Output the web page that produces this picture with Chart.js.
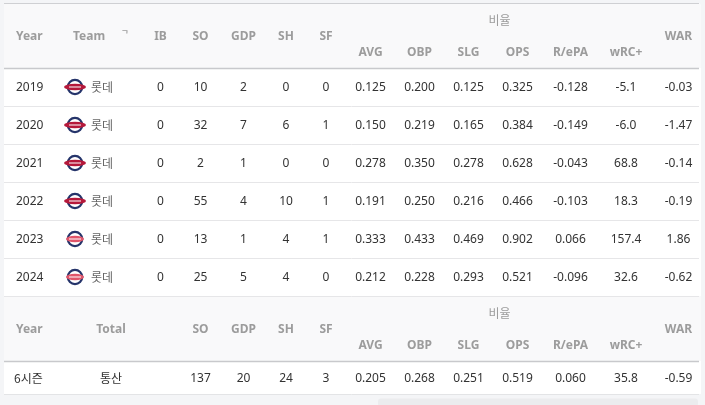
<!DOCTYPE html>
<html><head><meta charset="utf-8">
<script src="https://cdn.jsdelivr.net/npm/chart.js@4.4.1/dist/chart.umd.min.js"></script>
<style>html,body{margin:0;padding:0;background:#f4f5f7;overflow:hidden}#wrap{width:705px;height:405px;position:relative}</style>
</head><body><div id="wrap"><canvas id="c" width="705" height="405"></canvas></div>
<script>
// ---- data ----
const years = ['2019','2020','2021','2022','2023','2024'];
const teams = ['롯데','롯데','롯데','롯데','롯데','롯데'];
const IB  = [0,0,0,0,0,0];
const SO  = [10,32,2,55,13,25];
const GDP = [2,7,1,4,1,5];
const SH  = [0,6,0,10,4,4];
const SF  = [0,1,0,1,1,0];
const AVG = [0.125,0.150,0.278,0.191,0.333,0.212];
const OBP = [0.200,0.219,0.350,0.250,0.433,0.228];
const SLG = [0.125,0.165,0.278,0.216,0.469,0.293];
const OPS = [0.325,0.384,0.628,0.466,0.902,0.521];
const REPA = [-0.128,-0.149,-0.043,-0.103,0.066,-0.096];
const WRC = [-5.1,-6.0,68.8,18.3,157.4,32.6];
const WAR = [-0.03,-1.47,-0.14,-0.19,1.86,-0.62];
// totals
const totalLabels = ['6시즌','통산'];
const totalCounts = {SO:137, GDP:20, SH:24, SF:3};
const totalRates = {AVG:0.205, OBP:0.268, SLG:0.251, OPS:0.519, REPA:0.060, WRC:35.8, WAR:-0.59};
// header labels
const countHeaders = ['IB','SO','GDP','SH','SF'];
const rateHeaders = ['AVG','OBP','SLG','OPS','R/ePA','wRC+'];
const groupHeader = '비율';

// ---- layout (positions/styles) ----
const TL = 4, TR = 701;
const H1 = 3, HEADH = 65, ROWH = 38, TOTH = 33;
const dataTop = H1 + HEADH;
const H2 = dataTop + ROWH * years.length;
const totTop = H2 + HEADH;
const rowY = i => dataTop + ROWH * i + ROWH / 2 + 1;
const colX = {Year:16, Logo:75, TeamHead:73, Team:91, Total:111, IB:160.5, SO:200.5, GDP:243.5, SH:286, SF:326,
  AVG:370.5, OBP:419.5, SLG:468.5, OPS:517.5, REPA:570.5, WRC:626, WAR:678.5, Group:499.5, Mark:125};
const FONT = "'Noto Sans','Noto Sans CJK KR',sans-serif";
const HFONT = "bold 12px " + FONT, DFONT = "12px " + FONT, KFONT = "12px 'Noto Sans CJK KR',sans-serif";
const HCOL = '#9c9c9c', DCOL = '#333333';

const f3 = v => v.toFixed(3), f2 = v => v.toFixed(2), f1 = v => v.toFixed(1);
const datasets = [];
function addCol(xKey, ys, texts, font, color, align, kind) {
  datasets.push({ data: ys.map(y => ({x: colX[xKey], y})), texts, font, color, align: align || 'center', kind: kind || 'text' });
}
const dataYs = years.map((_, i) => rowY(i));
// header 1 & 2
[H1, H2].forEach((top, h) => {
  const yMain = top + 34, yTop = top + 17, ySub = top + 50;
  addCol('Year', [yMain], ['Year'], HFONT, HCOL, 'left');
  if (h === 0) {
    addCol('TeamHead', [yMain], ['Team'], HFONT, HCOL, 'left');
    addCol('Mark', [yMain - 2], ['ᄀ'], 'bold 8px ' + FONT, HCOL);
    addCol('IB', [yMain], ['IB'], HFONT, HCOL);
  } else {
    addCol('Total', [yMain], ['Total'], HFONT, HCOL);
  }
  ['SO','GDP','SH','SF'].forEach(k => addCol(k, [yMain], [k], HFONT, HCOL));
  ['AVG','OBP','SLG','OPS','REPA','WRC'].forEach((k, j) => addCol(k, [ySub], [rateHeaders[j]], HFONT, HCOL));
  addCol('WAR', [yMain], ['WAR'], HFONT, HCOL);
  addCol('Group', [yTop], [groupHeader], KFONT, HCOL);
});
// data rows
addCol('Year', dataYs, years, DFONT, DCOL, 'left');
addCol('Logo', dataYs.map(y => y - 1), years, null, null, 'center', 'logo');
addCol('Team', dataYs.map(y => y - 1), teams, KFONT, '#666666', 'left');
addCol('IB', dataYs, IB.map(String), DFONT, DCOL);
addCol('SO', dataYs, SO.map(String), DFONT, DCOL);
addCol('GDP', dataYs, GDP.map(String), DFONT, DCOL);
addCol('SH', dataYs, SH.map(String), DFONT, DCOL);
addCol('SF', dataYs, SF.map(String), DFONT, DCOL);
addCol('AVG', dataYs, AVG.map(f3), DFONT, DCOL);
addCol('OBP', dataYs, OBP.map(f3), DFONT, DCOL);
addCol('SLG', dataYs, SLG.map(f3), DFONT, DCOL);
addCol('OPS', dataYs, OPS.map(f3), DFONT, DCOL);
addCol('REPA', dataYs, REPA.map(f3), DFONT, DCOL);
addCol('WRC', dataYs, WRC.map(f1), DFONT, DCOL);
addCol('WAR', dataYs, WAR.map(f2), DFONT, DCOL);
// totals row
const ty = totTop + TOTH / 2 + 1;
datasets.push({data:[{x:colX.Year - 2, y:ty}], texts:[totalLabels[0]], font:KFONT, color:DCOL, align:'left', kind:'text'});
addCol('Total', [ty], [totalLabels[1]], KFONT, DCOL);
Object.keys(totalCounts).forEach(k => addCol(k, [ty], [String(totalCounts[k])], DFONT, DCOL));
Object.keys(totalRates).forEach(k => {
  const v = totalRates[k];
  addCol(k, [ty], [k === 'WRC' ? f1(v) : k === 'WAR' ? f2(v) : f3(v)], DFONT, DCOL);
});

function drawLogo(ctx, x, y, alt) {
  ctx.save();
  ctx.beginPath(); ctx.arc(x, y, 7.2, 0, Math.PI * 2);
  ctx.fillStyle = '#ffffff'; ctx.fill();
  ctx.lineWidth = 2.2; ctx.strokeStyle = '#25346a'; ctx.stroke();
  ctx.beginPath(); ctx.ellipse(x, y, alt ? 9 : 11, 3.3, 0, 0, Math.PI * 2);
  ctx.fillStyle = alt ? '#e0556a' : '#b5183a'; ctx.fill();
  ctx.fillStyle = '#ffffff'; ctx.fillRect(x - 6, y - 0.5, 12, 1);
  ctx.restore();
}

const tablePlugin = {
  id: 'tablePlugin',
  beforeDatasetsDraw(chart) {
    const {ctx, scales: {x, y}} = chart;
    const px = v => x.getPixelForValue(v), py = v => y.getPixelForValue(v);
    ctx.save();
    ctx.fillStyle = '#ffffff';
    ctx.beginPath();
    ctx.roundRect(px(TL), py(H1), px(TR) - px(TL), py(totTop + TOTH) - py(H1), [0, 4, 0, 0]);
    ctx.fill();
    ctx.fillStyle = '#f9f9fa';
    ctx.beginPath(); ctx.roundRect(px(TL), py(H1), px(TR) - px(TL), py(H1 + HEADH) - py(H1), [0, 4, 0, 0]); ctx.fill();
    ctx.fillRect(px(TL), py(H2), px(TR) - px(TL), py(H2 + HEADH) - py(H2));
    const hline = (yy, col, w) => { ctx.strokeStyle = col; ctx.lineWidth = w || 1; ctx.beginPath(); ctx.moveTo(px(TL), Math.round(py(yy)) + 0.5); ctx.lineTo(px(TR) - 2, Math.round(py(yy)) + 0.5); ctx.stroke(); };
    hline(H1, '#cfd0d3', 1.2);
    hline(dataTop, '#c8c9cc', 1.5);
    for (let i = 1; i <= years.length; i++) hline(dataTop + ROWH * i, '#e6e6e8');
    hline(totTop, '#c8c9cc', 1.5);
    hline(totTop + TOTH, '#e3e4e6');
    ctx.fillStyle = '#ebecee';
    ctx.beginPath(); ctx.roundRect(px(378), py(398.5), px(698) - px(378), 8, 3); ctx.fill();
    ctx.restore();
  },
  afterDatasetsDraw(chart) {
    const ctx = chart.ctx;
    ctx.save();
    ctx.textBaseline = 'middle';
    chart.data.datasets.forEach((ds, di) => {
      const meta = chart.getDatasetMeta(di);
      meta.data.forEach((el, i) => {
        if (ds.kind === 'logo') { drawLogo(ctx, el.x, el.y, i >= 4); return; }
        ctx.font = ds.font; ctx.fillStyle = ds.color; ctx.textAlign = ds.align;
        ctx.fillText(ds.texts[i], el.x, el.y);
      });
    });
    ctx.restore();
  }
};

function build() {
  new Chart(document.getElementById('c'), {
    type: 'scatter',
    data: { datasets },
    options: {
      responsive: false, animation: false, events: [],
      layout: { padding: 0 },
      elements: { point: { radius: 0, hoverRadius: 0 } },
      plugins: { legend: { display: false }, tooltip: { enabled: false } },
      scales: {
        x: { type: 'linear', min: 0, max: 705, display: false },
        y: { type: 'linear', min: 0, max: 405, reverse: true, display: false }
      }
    },
    plugins: [tablePlugin]
  });
}
const fl = document.fonts ? Promise.all([
  document.fonts.load("12px 'Noto Sans'"), document.fonts.load("bold 12px 'Noto Sans'"),
  document.fonts.load("12px 'Noto Sans CJK KR'", '롯데비율')]) : Promise.resolve();
Promise.race([fl, new Promise(r => setTimeout(r, 800))]).then(build, build);
</script></body></html>
